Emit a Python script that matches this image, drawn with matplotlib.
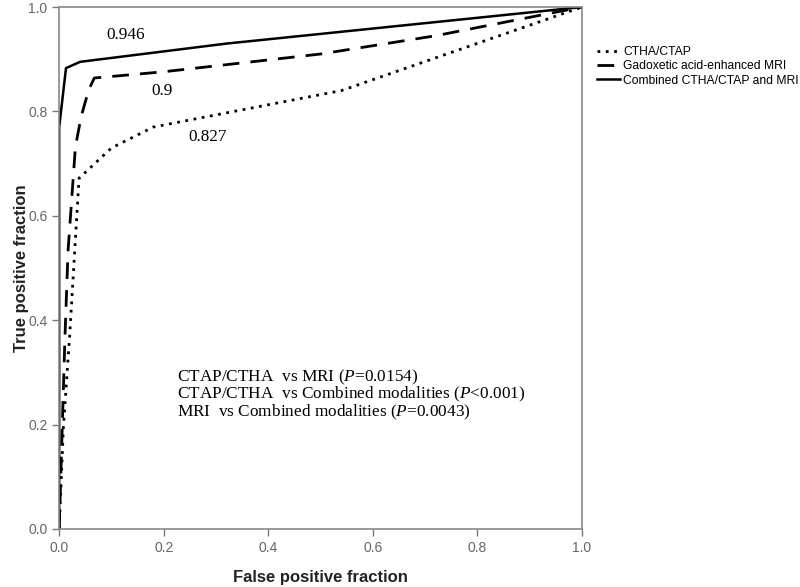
import matplotlib
matplotlib.use("Agg")
import matplotlib.pyplot as plt

plt.rcParams["mathtext.fontset"] = "custom"
plt.rcParams["mathtext.rm"] = "Liberation Serif"
plt.rcParams["mathtext.it"] = "Liberation Serif:italic"

# ROC curve points (false positive fraction, true positive fraction)
ctha_fpr = [0.0, 0.008, 0.02, 0.038, 0.10, 0.18, 0.54, 1.0]
ctha_tpr = [0.0, 0.195, 0.37, 0.672, 0.73, 0.77, 0.84, 1.0]

mri_fpr = [0.0, 0.011, 0.017, 0.031, 0.042, 0.056, 0.067, 0.20, 0.50, 0.72, 1.0]
mri_tpr = [0.0, 0.368, 0.534, 0.732, 0.79, 0.84, 0.864, 0.876, 0.91, 0.945, 1.0]

comb_fpr = [0.0, 0.0, 0.013, 0.04, 0.32, 1.0]
comb_tpr = [0.0, 0.77, 0.883, 0.895, 0.93, 1.0]

series_names = ["CTHA/CTAP", "Gadoxetic acid-enhanced MRI", "Combined CTHA/CTAP and MRI"]
auc_labels = ["0.827", "0.9", "0.946"]
auc_pos = [(0.283, 0.751), (0.197, 0.84), (0.127, 0.946)]
p_lines = [
    r"CTAP/CTHA  vs MRI ($P$=0.0154)",
    r"CTAP/CTHA  vs Combined modalities ($P$<0.001)",
    r"MRI  vs Combined modalities ($P$=0.0043)",
]
ticks = [0.0, 0.2, 0.4, 0.6, 0.8, 1.0]

fig = plt.figure(figsize=(8, 5.87), dpi=100)
ax = fig.add_axes([0.074, 0.099, 0.6535, 0.889])

ax.plot(ctha_fpr, ctha_tpr, color="black", lw=2.0, linestyle=(0, (1, 2)),
        dash_capstyle="butt", label=series_names[0])
ax.plot(mri_fpr, mri_tpr, color="black", lw=2.0, linestyle=(0, (6, 4)),
        label=series_names[1])
ax.plot(comb_fpr, comb_tpr, color="black", lw=1.8, linestyle="-",
        label=series_names[2])

for txt, (x, y) in zip(auc_labels, auc_pos):
    ax.text(x, y, txt, ha="center", va="center", fontsize=12.4,
            family="Liberation Serif")

y0 = 0.291
for i, line in enumerate(p_lines):
    ax.text(0.226, y0 - i * 0.0335, line, ha="left", va="center",
            fontsize=12.4, family="Liberation Serif")

ax.set_xlim(0, 1)
ax.set_ylim(0, 1)
ax.set_xticks(ticks)
ax.set_yticks(ticks)
ax.set_xticklabels([f"{t:.1f}" for t in ticks], family="Liberation Sans")
ax.set_yticklabels([f"{t:.1f}" for t in ticks], family="Liberation Sans")
ax.tick_params(direction="out", length=5, width=1, colors="#777777",
               labelsize=10, labelcolor="#666666")
for s in ax.spines.values():
    s.set_color("#888888")
    s.set_linewidth(1.2)

ax.set_xlabel("False positive fraction", fontsize=12, fontweight="bold",
              family="Liberation Sans", color="#222222", labelpad=11)
ax.set_ylabel("True positive fraction", fontsize=12, fontweight="bold",
              family="Liberation Sans", color="#222222", labelpad=-1)

leg = ax.legend(loc="upper left", bbox_to_anchor=(1.02, 0.935), frameon=False,
                prop={"family": "Liberation Sans", "size": 8.7},
                handlelength=1.9, handletextpad=0.25,
                labelspacing=0.2, borderaxespad=0)

fig.savefig("out.png", dpi=100)
